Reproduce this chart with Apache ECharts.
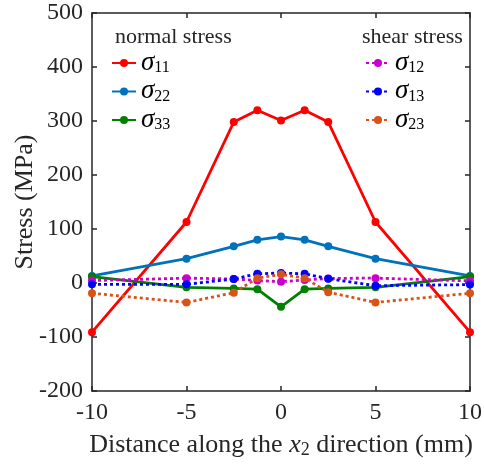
<!DOCTYPE html>
<html>
<head>
<meta charset="utf-8">
<script src="https://cdn.jsdelivr.net/npm/echarts@6/dist/echarts.min.js"></script>
<style>
html,body{margin:0;padding:0;background:#fff;}
#c{width:484px;height:465px;}
</style>
</head>
<body>
<div id="c"></div>
<script>
const xPos = [-10, -5, -2.5, -1.25, 0, 1.25, 2.5, 5, 10];
const s11 = [-91, 113, 298, 320, 301, 320, 298, 113, -91];
const s22 = [13, 45, 68, 80, 86, 80, 68, 45, 13];
const s33 = [12, -8, -10, -11.5, -44, -11.5, -10, -8, 12];
const s12 = [4.5, 9, 7.5, 4.5, 2.5, 5.5, 8.5, 9, 4];
const s13 = [-2.5, -2.5, 7.5, 17, 18.5, 17, 8, -5, -3];
const s23 = [-19, -36, -18, 9, 16, 9, -17, -36, -19];
const xTicks = [-10, -5, 0, 5, 10];
const yTicks = [-200, -100, 0, 100, 200, 300, 400, 500];

const seriesNames = ['σ11', 'σ22', 'σ33', 'σ12', 'σ13', 'σ23'];
const seriesData = [s11, s22, s33, s12, s13, s23];
const colors = ['#FF0000', '#0072BD', '#008000', '#CC00CC', '#0000FF', '#D95319'];
const dotted = [false, false, false, true, true, true];

const FONT = '"Liberation Serif", "DejaVu Serif", serif';
const AX = '#262626';

const chart = echarts.init(document.getElementById('c'), null, {renderer: 'canvas'});

const series = seriesNames.map((n, i) => ({
  name: n,
  type: 'line',
  data: xPos.map((x, j) => [x, seriesData[i][j]]),
  symbol: 'circle',
  symbolSize: 8,
  color: colors[i],
  lineStyle: {width: 2.8, color: colors[i], type: dotted[i] ? [3, 3] : 'solid'},
  itemStyle: {color: colors[i]},
  animation: false,
  z: 2 + i
}));

const legendRich = {
  g: {fontFamily: FONT, fontStyle: 'italic', fontSize: 27, color: '#000', lineHeight: 26, verticalAlign: 'bottom'},
  s: {fontFamily: FONT, fontSize: 16, color: '#000', lineHeight: 17, verticalAlign: 'bottom'}
};
const legendFmt = name => '{g|σ}{s|' + name.slice(1) + '}';

const axisCommon = {
  axisLine: {show: true, onZero: false, lineStyle: {color: AX, width: 1.5}},
  axisTick: {show: true, inside: true, length: 5, lineStyle: {color: AX, width: 1.5}},
  splitLine: {show: false}
};

chart.setOption({
  backgroundColor: '#fff',
  animation: false,
  title: [
    {text: 'normal stress', left: 115, top: 26, padding: 0, textStyle: {fontFamily: FONT, fontSize: 22, fontWeight: 'normal', color: AX}},
    {text: 'shear stress', left: 362, top: 26, padding: 0, textStyle: {fontFamily: FONT, fontSize: 22, fontWeight: 'normal', color: AX}}
  ],
  legend: [
    {
      data: ['σ11', 'σ22', 'σ33'],
      orient: 'vertical', left: 111, top: 49, padding: 0,
      itemWidth: 24, itemHeight: 10, itemGap: 1.5,
      formatter: legendFmt,
      textStyle: {rich: legendRich},
      selectedMode: false
    },
    {
      data: ['σ12', 'σ13', 'σ23'],
      orient: 'vertical', left: 365, top: 49, padding: 0,
      itemWidth: 24, itemHeight: 10, itemGap: 1.5,
      formatter: legendFmt,
      textStyle: {rich: legendRich},
      selectedMode: false
    }
  ],
  grid: {left: 92, right: 14, top: 13, bottom: 74, containLabel: false, outerBoundsMode: 'none'},
  xAxis: [
    Object.assign({
      type: 'value', min: -10, max: 10, interval: 5, position: 'bottom',
      name: 'Distance along the {i|x}{s|2} direction (mm)',
      nameLocation: 'middle', nameGap: 40, nameMoveOverlap: false,
      nameTextStyle: {
        fontFamily: FONT, fontSize: 26, color: AX, lineHeight: 28,
        rich: {
          i: {fontFamily: FONT, fontStyle: 'italic', fontSize: 26, color: AX, lineHeight: 28},
          s: {fontFamily: FONT, fontSize: 18, color: AX, lineHeight: 18, verticalAlign: 'bottom'}
        }
      },
      axisLabel: {fontFamily: FONT, fontSize: 24, color: AX, margin: 10,
        customValues: xTicks, formatter: v => String(v)}
    }, axisCommon),
    Object.assign({
      type: 'value', min: -10, max: 10, interval: 5, position: 'top',
      axisLabel: {show: false}
    }, axisCommon)
  ],
  yAxis: [
    Object.assign({
      type: 'value', min: -200, max: 500, interval: 100, position: 'left',
      name: 'Stress (MPa)', nameLocation: 'middle', nameGap: 54, nameMoveOverlap: false,
      nameTextStyle: {fontFamily: FONT, fontSize: 26, color: AX},
      axisLabel: {fontFamily: FONT, fontSize: 24, color: AX, margin: 9,
        customValues: yTicks, formatter: v => String(v)}
    }, axisCommon),
    Object.assign({
      type: 'value', min: -200, max: 500, interval: 100, position: 'right',
      axisLabel: {show: false}
    }, axisCommon)
  ],
  series: series
});
</script>
</body>
</html>
